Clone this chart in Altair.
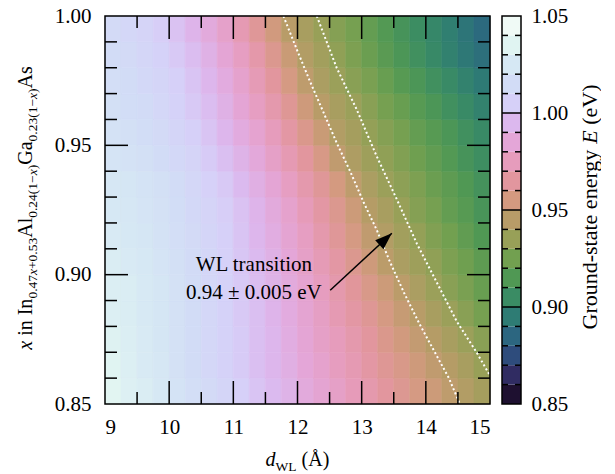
import math
import pandas as pd
import altair as alt

# ---------------- data ----------------
D_EDGES = [9.0, 9.25, 9.5, 9.75, 10.0, 10.25, 10.5, 10.75, 11.0, 11.25, 11.5, 11.75,
           12.0, 12.25, 12.5, 12.75, 13.0, 13.25, 13.5, 13.75, 14.0, 14.25, 14.5, 14.75, 15.0]
X_EDGES = [0.85, 0.86, 0.87, 0.88, 0.89, 0.90, 0.91, 0.92, 0.93, 0.94, 0.95,
           0.96, 0.97, 0.98, 0.99, 1.00]

# ground-state energy (eV), one row per composition band (bottom -> top)
E_ROWS = [
    [1.036, 1.032, 1.029, 1.025, 1.021, 1.017, 1.013, 1.009, 1.005, 1.000, 0.996, 0.992,
     0.987, 0.983, 0.979, 0.974, 0.970, 0.965, 0.961, 0.956, 0.952, 0.947, 0.943, 0.939],
    [1.035, 1.031, 1.027, 1.024, 1.019, 1.015, 1.011, 1.007, 1.003, 0.998, 0.994, 0.990,
     0.985, 0.981, 0.976, 0.972, 0.967, 0.962, 0.958, 0.953, 0.948, 0.944, 0.940, 0.935],
    [1.033, 1.030, 1.027, 1.023, 1.019, 1.015, 1.011, 1.007, 1.003, 0.998, 0.994, 0.989,
     0.984, 0.979, 0.975, 0.970, 0.965, 0.959, 0.954, 0.949, 0.944, 0.940, 0.936, 0.931],
    [1.031, 1.029, 1.026, 1.023, 1.019, 1.015, 1.011, 1.007, 1.002, 0.998, 0.993, 0.988,
     0.983, 0.978, 0.972, 0.967, 0.962, 0.956, 0.950, 0.945, 0.940, 0.936, 0.931, 0.926],
    [1.030, 1.029, 1.026, 1.023, 1.019, 1.015, 1.011, 1.007, 1.002, 0.997, 0.992, 0.987,
     0.982, 0.976, 0.970, 0.964, 0.958, 0.952, 0.946, 0.941, 0.936, 0.931, 0.927, 0.922],
    [1.029, 1.027, 1.025, 1.022, 1.018, 1.014, 1.010, 1.006, 1.001, 0.996, 0.991, 0.985,
     0.979, 0.973, 0.967, 0.960, 0.953, 0.946, 0.941, 0.937, 0.933, 0.928, 0.924, 0.919],
    [1.027, 1.025, 1.023, 1.020, 1.017, 1.013, 1.009, 1.005, 1.000, 0.994, 0.989, 0.983,
     0.977, 0.970, 0.963, 0.956, 0.948, 0.943, 0.938, 0.934, 0.929, 0.925, 0.920, 0.915],
    [1.025, 1.024, 1.022, 1.019, 1.016, 1.012, 1.008, 1.004, 0.999, 0.993, 0.987, 0.981,
     0.974, 0.967, 0.960, 0.952, 0.944, 0.940, 0.935, 0.930, 0.926, 0.921, 0.917, 0.912],
    [1.024, 1.023, 1.021, 1.018, 1.015, 1.011, 1.006, 1.002, 0.996, 0.990, 0.984, 0.977,
     0.970, 0.963, 0.955, 0.947, 0.941, 0.936, 0.932, 0.928, 0.923, 0.919, 0.915, 0.910],
    [1.022, 1.020, 1.018, 1.015, 1.012, 1.008, 1.003, 0.998, 0.992, 0.986, 0.979, 0.972,
     0.965, 0.957, 0.948, 0.942, 0.937, 0.933, 0.929, 0.924, 0.920, 0.916, 0.911, 0.907],
    [1.020, 1.018, 1.016, 1.013, 1.009, 1.005, 1.000, 0.994, 0.988, 0.982, 0.975, 0.967,
     0.959, 0.951, 0.943, 0.939, 0.934, 0.930, 0.926, 0.921, 0.917, 0.913, 0.908, 0.904],
    [1.018, 1.016, 1.014, 1.011, 1.007, 1.002, 0.997, 0.991, 0.984, 0.977, 0.970, 0.962,
     0.953, 0.945, 0.940, 0.936, 0.931, 0.926, 0.922, 0.917, 0.913, 0.908, 0.904, 0.899],
    [1.017, 1.015, 1.012, 1.009, 1.005, 1.000, 0.994, 0.988, 0.981, 0.973, 0.965, 0.956,
     0.947, 0.941, 0.936, 0.931, 0.927, 0.922, 0.917, 0.913, 0.908, 0.904, 0.899, 0.894],
    [1.015, 1.013, 1.010, 1.007, 1.002, 0.997, 0.991, 0.984, 0.977, 0.969, 0.960, 0.951,
     0.943, 0.938, 0.933, 0.928, 0.923, 0.918, 0.913, 0.908, 0.903, 0.898, 0.893, 0.889],
    [1.013, 1.011, 1.008, 1.004, 0.999, 0.993, 0.987, 0.980, 0.972, 0.963, 0.954, 0.945,
     0.940, 0.935, 0.930, 0.926, 0.921, 0.916, 0.911, 0.906, 0.902, 0.897, 0.892, 0.887],
]

# dotted contour lines (WL transition 0.945 and 0.935 eV)
C945_D = [11.78, 11.99, 12.19, 12.40, 12.61, 12.82, 13.03, 13.24, 13.44, 13.66, 13.90, 14.14, 14.36, 14.53]
C945_X = [1.000, 0.987, 0.975, 0.963, 0.951, 0.940, 0.928, 0.917, 0.905, 0.893, 0.881, 0.870, 0.860, 0.850]
C935_D = [12.30, 12.61, 12.92, 13.23, 13.55, 13.86, 14.17, 14.48, 14.79, 15.00]
C935_X = [1.000, 0.980, 0.964, 0.946, 0.929, 0.912, 0.897, 0.882, 0.870, 0.861]

ARROW_D = [12.51, 13.47]
ARROW_X = [0.894, 0.916]
NOTE_TEXT = ["WL transition", "0.94 \u00b1 0.005 eV"]
NOTE_D = [11.32, 11.32]
NOTE_X = [0.9014, 0.8906]

X_TICKS = [9, 10, 11, 12, 13, 14, 15]
X_MINOR = [9.5, 10.5, 11.5, 12.5, 13.5, 14.5]
Y_TICKS = [0.85, 0.90, 0.95, 1.00]
Y_MAJOR_IN = [0.90, 0.95]
Y_MINOR = [0.86, 0.87, 0.88, 0.89, 0.91, 0.92, 0.93, 0.94, 0.96, 0.97, 0.98, 0.99]

CB_EDGES = [0.85, 0.86, 0.87, 0.88, 0.89, 0.90, 0.91, 0.92, 0.93, 0.94, 0.95,
            0.96, 0.97, 0.98, 0.99, 1.00, 1.01, 1.02, 1.03, 1.04, 1.05]
CB_STOPS = [0.855, 0.865, 0.875, 0.885, 0.895, 0.905, 0.915, 0.925, 0.935, 0.945,
            0.955, 0.965, 0.975, 0.985, 0.995, 1.005, 1.015, 1.025, 1.035, 1.045]
CB_COLORS = ["#1e1030", "#302c62", "#2e4c7c", "#2c6680", "#2e7c74", "#3a8c64", "#509854",
             "#72a050", "#98a058", "#b89c68", "#d49a80", "#e2969e", "#e69cbc", "#e4a6d8",
             "#dcb8ee", "#d6d0f8", "#d2dcf6", "#d6e8f4", "#e0f4f2", "#f0faf6"]
CB_TICKS = [0.85, 0.90, 0.95, 1.00, 1.05]
CB_MAJOR_IN = [0.90, 0.95, 1.00]
CB_MINOR = [0.86, 0.87, 0.88, 0.89, 0.91, 0.92, 0.93, 0.94, 0.96, 0.97, 0.98, 0.99,
            1.01, 1.02, 1.03, 1.04]

# ---------------- layout / style ----------------
W, H = 385, 388
CBW = 19
MAJ, MIN = 23, 12
SERIF = "Liberation Serif"
ONE = pd.DataFrame({"k": [0]})

UP = {c: 500 for c in "0123456789"}
UP.update({".": 250, "+": 564, "\u2212": 564, "(": 333, ")": 333, " ": 250, "i": 278,
           "n": 500, "I": 333, "A": 722, "l": 278, "G": 722, "a": 444, "s": 389, "r": 333,
           "o": 500, "u": 500, "d": 500, "-": 333, "t": 278, "e": 444, "g": 500, "y": 500,
           "V": 722, "W": 944, "L": 611, "\u00c5": 722})
IT = {"x": 444, "d": 500, "E": 611}


def tw(s, size, italic):
    table = IT if italic else UP
    return sum(table.get(ch, 500) for ch in s) * size / 1000.0


def seg(text, x, y, size, italic, angle=None):
    props = dict(text=text, font=SERIF, fontSize=size, align="left",
                 baseline="alphabetic", color="black")
    if italic:
        props["fontStyle"] = "italic"
    if angle is not None:
        props["angle"] = angle
    return alt.Chart(ONE).mark_text(**props).encode(x=alt.value(x), y=alt.value(y))


def vtitle(segs, x_main, x_sub, yc):
    total = sum(tw(t, s, i) for t, s, i, _ in segs)
    cur = yc + total / 2
    out = []
    for t, s, i, sub in segs:
        lead = len(t) - len(t.lstrip(" "))
        out.append(seg(t.strip(" "), x_sub if sub else x_main, cur - tw(" " * lead, s, False), s, i, 270))
        cur -= tw(t, s, i)
    return out


def htitle(segs, y_main, y_sub, xc):
    total = sum(tw(t, s, i) for t, s, i, _ in segs)
    cur = xc - total / 2
    out = []
    for t, s, i, sub in segs:
        lead = len(t) - len(t.lstrip(" "))
        out.append(seg(t.strip(" "), cur + tw(" " * lead, s, False), y_sub if sub else y_main, s, i))
        cur += tw(t, s, i)
    return out


xs = alt.Scale(domain=[9, 15], nice=False, zero=False)
ys = alt.Scale(domain=[0.85, 1.0], nice=False, zero=False)
cs = alt.Scale(domain=CB_STOPS, range=CB_COLORS, interpolate="rgb", clamp=True)

# heat map table
recs = []
for i, row in enumerate(E_ROWS):
    for j, e in enumerate(row):
        recs.append(dict(d0=D_EDGES[j], d1=D_EDGES[j + 1], x0=X_EDGES[i], x1=X_EDGES[i + 1], E=e))
heat_df = pd.DataFrame(recs)

heat = alt.Chart(heat_df).mark_rect(strokeWidth=0.6).encode(
    x=alt.X("d0:Q", scale=xs, axis=alt.Axis(values=X_TICKS, format="d", labelPadding=12, title=None)),
    x2="d1",
    y=alt.Y("x0:Q", scale=ys, axis=alt.Axis(values=Y_TICKS, format=".2f", labelPadding=14, title=None)),
    y2="x1",
    color=alt.Color("E:Q", scale=cs, legend=None),
    stroke=alt.Stroke("E:Q", scale=cs, legend=None),
)

cont_df = pd.DataFrame(
    [dict(line="a", k=k, d=d, x=x) for k, (d, x) in enumerate(zip(C945_D, C945_X))]
    + [dict(line="b", k=k, d=d, x=x) for k, (d, x) in enumerate(zip(C935_D, C935_X))]
)
contours = alt.Chart(cont_df).mark_line(color="white", strokeWidth=2, strokeDash=[2, 2.5],
                                        strokeCap="butt").encode(
    x=alt.X("d:Q", scale=xs, title=None),
    y=alt.Y("x:Q", scale=ys, title=None),
    detail="line:N",
    order="k:Q",
)

arrow_df = pd.DataFrame({"d": ARROW_D, "x": ARROW_X, "k": [0, 1]})
arrow_line = alt.Chart(arrow_df).mark_line(color="black", strokeWidth=1.5).encode(
    x=alt.X("d:Q", scale=xs, title=None), y=alt.Y("x:Q", scale=ys, title=None), order="k:Q")
dx_px = (ARROW_D[1] - ARROW_D[0]) * W / 6.0
dy_px = (ARROW_X[1] - ARROW_X[0]) * H / 0.15
ang = math.degrees(math.atan2(dx_px, dy_px))
head_df = pd.DataFrame({"d": [ARROW_D[1]], "x": [ARROW_X[1]]})
arrow_head = alt.Chart(head_df).mark_point(shape="M0,0L0.36,1L-0.36,1Z", filled=True, size=1156,
                                           color="black", opacity=1, strokeWidth=0,
                                           angle=ang).encode(
    x=alt.X("d:Q", scale=xs, title=None), y=alt.Y("x:Q", scale=ys, title=None))

note_df = pd.DataFrame({"t": NOTE_TEXT, "d": NOTE_D, "x": NOTE_X})
note = alt.Chart(note_df).mark_text(font=SERIF, fontSize=21, align="center", baseline="alphabetic",
                                    color="black").encode(
    x=alt.X("d:Q", scale=xs, title=None), y=alt.Y("x:Q", scale=ys, title=None), text="t:N")


def xticks(vals, length):
    df = pd.DataFrame({"v": vals})
    base = alt.Chart(df).mark_rule(color="black", strokeWidth=1.5)
    xe = alt.X("v:Q", scale=xs, title=None)
    return [base.encode(x=xe, y=alt.value(H), y2=alt.value(H - length)),
            base.encode(x=xe, y=alt.value(0), y2=alt.value(length))]


def yticks(vals, length):
    df = pd.DataFrame({"v": vals})
    base = alt.Chart(df).mark_rule(color="black", strokeWidth=1.5)
    ye = alt.Y("v:Q", scale=ys, title=None)
    return [base.encode(y=ye, x=alt.value(0), x2=alt.value(length)),
            base.encode(y=ye, x=alt.value(W - length), x2=alt.value(W))]


tick_layers = xticks(X_TICKS[1:-1], MAJ) + xticks(X_MINOR, MIN) + yticks(Y_MAJOR_IN, MAJ) + yticks(Y_MINOR, MIN)

frame = alt.Chart(ONE).mark_rect(fill="white", fillOpacity=0, stroke="black", strokeWidth=1.5).encode(
    x=alt.value(0), x2=alt.value(W), y=alt.value(0), y2=alt.value(H))
anchor = alt.Chart(ONE).mark_rect(opacity=0).encode(
    x=alt.value(-105), x2=alt.value(-104), y=alt.value(-16), y2=alt.value(-15))

y_title = vtitle([
    ("x", 20, True, False), (" in In", 20, False, False),
    ("0.47", 13.5, False, True), ("x", 13.5, True, True), ("+0.53", 13.5, False, True),
    ("Al", 20, False, False),
    ("0.24(1\u2212", 13.5, False, True), ("x", 13.5, True, True), (")", 13.5, False, True),
    ("Ga", 20, False, False),
    ("0.23(1\u2212", 13.5, False, True), ("x", 13.5, True, True), (")", 13.5, False, True),
    ("As", 20, False, False),
], x_main=-73, x_sub=-68, yc=192)

x_title = htitle([
    ("d", 20, True, False), ("WL", 13.5, False, True), (" (\u00c5)", 20, False, False),
], y_main=450, y_sub=454.5, xc=W / 2)

main = alt.layer(heat, contours, arrow_line, arrow_head, note, *tick_layers, frame, anchor,
                 *y_title, *x_title).properties(width=W, height=H)

# ---------------- colour bar ----------------
cbys = alt.Scale(domain=[0.85, 1.05], nice=False, zero=False)
band_df = pd.DataFrame({"lo": CB_EDGES[:-1], "hi": CB_EDGES[1:], "E": CB_STOPS})
bands = alt.Chart(band_df).mark_rect(strokeWidth=0.6).encode(
    x=alt.value(0), x2=alt.value(CBW),
    y=alt.Y("lo:Q", scale=cbys, axis=alt.Axis(orient="right", values=CB_TICKS, format=".2f",
                                              labelPadding=10, title=None)),
    y2="hi",
    color=alt.Color("E:Q", scale=cs, legend=None),
)


def cbticks(vals, x0, x1):
    df = pd.DataFrame({"v": vals})
    return alt.Chart(df).mark_rule(color="black", strokeWidth=1.5).encode(
        y=alt.Y("v:Q", scale=cbys, title=None), x=alt.value(x0), x2=alt.value(x1))


cb_ticks = [cbticks(CB_MINOR, 0, 6), cbticks(CB_MINOR, CBW - 6, CBW), cbticks(CB_MAJOR_IN, 0, CBW)]
cb_frame = alt.Chart(ONE).mark_rect(fill="white", fillOpacity=0, stroke="black", strokeWidth=1.5).encode(
    x=alt.value(0), x2=alt.value(CBW), y=alt.value(0), y2=alt.value(H))
cb_title = vtitle([
    ("Ground-state energy ", 22, False, False), ("E", 22, True, False), (" (eV)", 22, False, False),
], x_main=95, x_sub=95, yc=191)

cbar = alt.layer(bands, *cb_ticks, cb_frame, *cb_title).properties(width=CBW, height=H)

chart = alt.hconcat(main, cbar, spacing=12, bounds="flush").properties(
    padding=0, background="white"
).configure_view(strokeWidth=0).configure_axis(
    labelFont=SERIF, labelFontSize=21, labelColor="black", ticks=False, domain=False, grid=False
)

chart.save("out.html", embed_options={"renderer": "svg", "actions": False})
